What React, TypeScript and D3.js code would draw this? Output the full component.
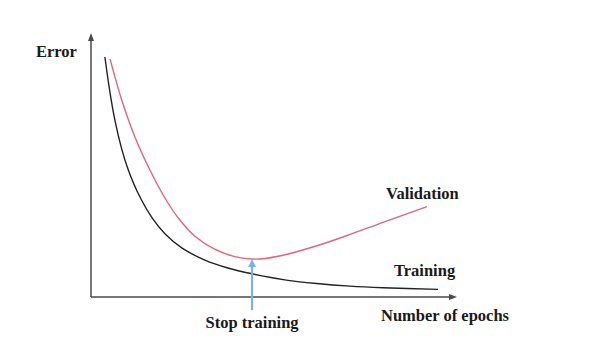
import React from "react";
import * as d3 from "d3";

const trainingEpochs = [3.8, 5.2, 6.6, 8.4, 10.1, 12.8, 16.7, 20.2, 24.9, 31.1, 37.4, 44.0, 52.5, 61.7, 70.8, 79.8, 94.8];
const trainingError = [90.9, 77.3, 66.5, 56.0, 48.5, 39.5, 30.0, 24.0, 18.5, 14.0, 11.0, 8.8, 6.6, 5.1, 4.1, 3.5, 2.9];
const validationEpochs = [5.2, 8.4, 12.0, 16.1, 20.2, 23.8, 28.4, 33.9, 39.3, 44.0, 46.2, 52.5, 61.7, 70.8, 79.8, 91.8];
const validationError = [90.2, 74.6, 60.6, 48.1, 37.5, 30.0, 23.0, 18.0, 15.3, 14.4, 14.4, 15.8, 19.4, 23.7, 28.3, 34.2];
const stopEpoch = 44.0;
const stopError = 14.4;

const W = 600;
const H = 358;

export default function App() {
  const x = d3.scaleLinear().domain([0, 100]).range([91, 457]);
  const y = d3.scaleLinear().domain([0, 100]).range([297, 33]);

  const line = d3
    .line<[number, number]>()
    .x((d) => x(d[0]))
    .y((d) => y(d[1]))
    .curve(d3.curveCatmullRom.alpha(0.5));

  const trainPts = trainingEpochs.map((e, i) => [e, trainingError[i]] as [number, number]);
  const valPts = validationEpochs.map((e, i) => [e, validationError[i]] as [number, number]);

  const font = "'Liberation Serif', 'Times New Roman', serif";
  const axisColor = "#4a4a4a";
  const sx = x(stopEpoch);
  const sy = y(stopError);

  return (
    <svg
      width={W}
      height={H}
      style={{ position: "absolute", left: 0, top: 0, background: "#fff" }}
    >
      {/* axes */}
      <line x1={x(0)} y1={y(0)} x2={x(0)} y2={y(100) + 4} stroke={axisColor} strokeWidth={1.5} />
      <path d={`M${x(0)},${y(100)} L${x(0) - 3},${y(100) + 8} L${x(0) + 3},${y(100) + 8} Z`} fill={axisColor} />
      <line x1={x(0)} y1={y(0)} x2={x(100) - 4} y2={y(0)} stroke={axisColor} strokeWidth={1.5} />
      <path d={`M${x(100)},${y(0)} L${x(100) - 8},${y(0) - 3} L${x(100) - 8},${y(0) + 3} Z`} fill={axisColor} />

      {/* curves */}
      <path d={line(trainPts) || ""} fill="none" stroke="#222" strokeWidth={1.4} />
      <path d={line(valPts) || ""} fill="none" stroke="#e0647f" strokeWidth={1.4} />

      {/* stop arrow */}
      <line x1={sx} y1={y(-5)} x2={sx} y2={sy + 6} stroke="#79b3ea" strokeWidth={2.2} />
      <path d={`M${sx},${sy} L${sx - 4},${sy + 8} L${sx + 4},${sy + 8} Z`} fill="#79b3ea" />

      {/* labels */}
      <g fontFamily={font} fontWeight="bold" fontSize={16.5} fill="#1a1a1a">
        <text x={36} y={57}>Error</text>
        <text x={386} y={199}>Validation</text>
        <text x={394} y={276}>Training</text>
        <text x={381} y={321}>Number of epochs</text>
        <text x={sx} y={328} textAnchor="middle">Stop training</text>
      </g>
    </svg>
  );
}
